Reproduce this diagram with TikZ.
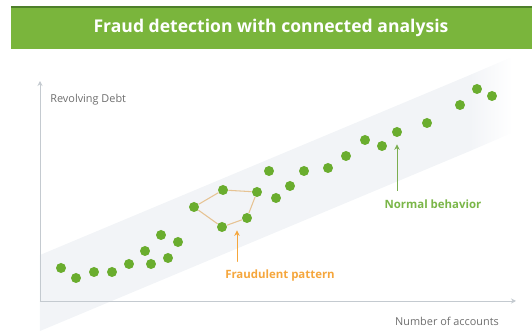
\documentclass[tikz,border=0pt]{standalone}
\usepackage{fontspec}
\setmainfont{Open Sans}
\usetikzlibrary{positioning,calc,arrows.meta}

\definecolor{bargreen}{HTML}{7AB53C}
\definecolor{bardark}{HTML}{4E7F2A}
\definecolor{dotgreen}{HTML}{6AAD2E}
\definecolor{textgreen}{HTML}{7AB648}
\definecolor{fraudorange}{HTML}{F5A63C}
\definecolor{fraudedge}{HTML}{E6C393}
\definecolor{bandgray}{HTML}{F2F4F7}
\definecolor{axisgray}{HTML}{C4CAD0}
\definecolor{labelgray}{HTML}{6E6E6E}

\begin{document}
\begin{tikzpicture}[x=0.02cm,y=-0.02cm,
				dot/.style={circle, fill=dotgreen, inner sep=0pt, minimum size=2mm},
				axis/.style={draw=axisgray, line width=0.5pt, -{Stealth[length=1mm,width=1mm]}},
				axislabel/.style={text=labelgray, font=\fontsize{6.2}{7}\selectfont, inner sep=0pt},
				callout/.style={font=\bfseries\fontsize{6.5}{8}\selectfont, inner sep=0pt}
			]
			\useasboundingbox (0,0) rectangle (532,331);
			
			% title bar
			\fill[bargreen] (11,7) rectangle (532,49);
			\draw[bardark, line width=0.6pt] (11,7) -- (532,7);
			\node[text=white, font=\bfseries\fontsize{10}{12}\selectfont] (title) at (271,28) {Fraud detection with connected analysis};
			
			% band, fading out at its right end
			\fill[bandgray] (40,255) -- (470,75) -- (470,151) -- (40,331) -- cycle;
			\shade[left color=bandgray, right color=white, shading angle=90] (469.5,75.2) -- (512,57) -- (512,133) -- (469.5,151.2) -- cycle;
			
			% axes
			\coordinate (o) at (40,301);
			\coordinate (ytop) at (40,81);
			\coordinate (xend) at (516,301);
			\draw[axis] (o) -- (ytop);
			\draw[axis] (o) -- (xend);
			\node[axislabel, anchor=west] (ylab) at (50,100) {Revolving Debt};
			\node[axislabel] (xlab) at (447,321) {Number of accounts};
			
			% normal points
			\foreach \x/\y [count=\i] in {61/268, 76/278, 94/272, 112/272, 129/264, 151/264,
					145/251, 168/258, 161/235, 178/242, 269/171, 276/198, 290/186, 304/171,
					328/168, 346/156, 365/140, 382/146, 397/132, 427/123, 460/105, 477/89, 492/96}
				\node[dot] (n_\i) at (\x,\y) {};
			
			% fraud ring
			\node[dot] (f_1) at (194,207) {};
			\node[dot] (f_2) at (223,190) {};
			\node[dot] (f_3) at (257,192) {};
			\node[dot] (f_4) at (247,218) {};
			\node[dot] (f_5) at (222,227) {};
			\draw[fraudedge, line width=0.6pt] (f_1) -- (f_2) -- (f_3) -- (f_4) -- (f_5) -- (f_1);
			
			% callouts
			\node[callout, text=fraudorange] (fraud) at (280,276) {Fraudulent pattern};
			\node[callout, text=textgreen] (normal) at (433,204) {Normal behavior};
			
			\coordinate (fraudtail) at (237,261);
			\coordinate (fraudhead) at ($(f_5)!0.6!(f_4)$);
			\draw[fraudorange, line width=0.5pt, -{Stealth[length=1.1mm,width=1.1mm]}, shorten >=5pt] (fraudtail) -- (fraudhead |- fraudtail) -- (fraudhead);
			\coordinate (normaltail) at (397,191);
			\draw[textgreen!85!gray, line width=0.5pt, -{Stealth[length=1.1mm,width=1.1mm]}, shorten >=4pt] (normaltail) -- (n_19);
		\end{tikzpicture}
\end{document}
